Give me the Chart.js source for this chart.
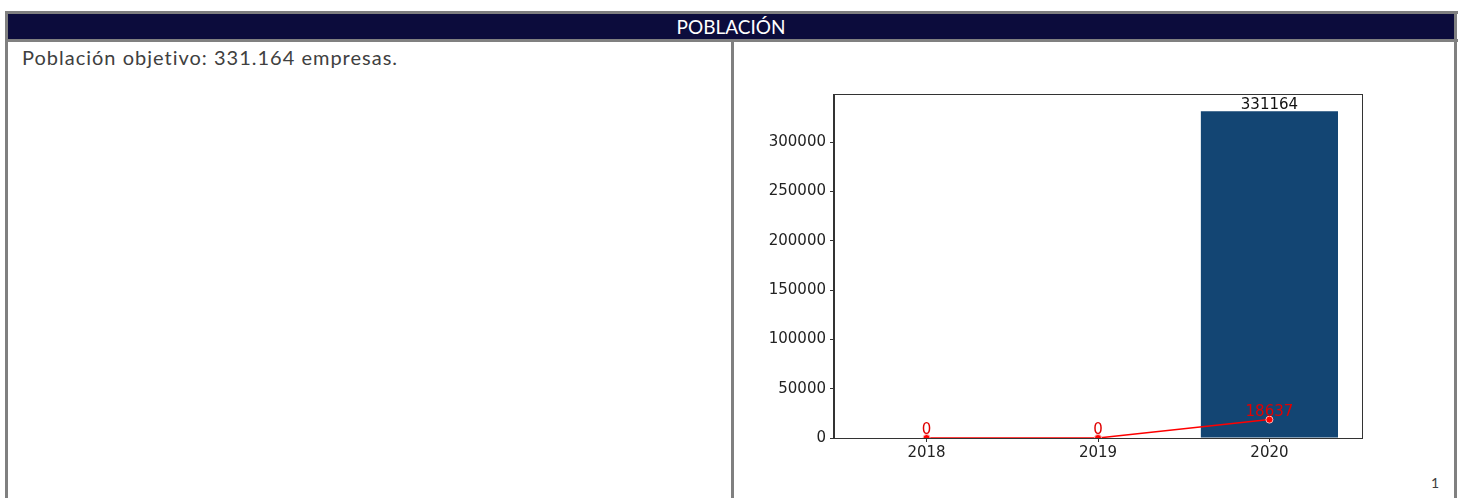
<!DOCTYPE html>
<html>
<head>
  <meta charset="utf-8">
  <title>Población</title>
  <script src="https://cdn.jsdelivr.net/npm/chart.js"></script>
<style>
body {
  margin: 0;
  background: #fff;
  width: 1465px;
  height: 498px;
  overflow: hidden;
  position: relative;
}
.line { position: absolute; background: #808080; }
.header {
  position: absolute;
  left: 8px; top: 14px; width: 1446px; height: 25px;
  background: #0c0c3c;
  color: #fff;
  font-family: Lato, "Open Sans", sans-serif;
  font-size: 19px;
  line-height: 26px;
  text-align: center;
}
.note {
  position: absolute;
  left: 22px; top: 45px;
  font-family: Lato, "Open Sans", sans-serif;
  font-size: 20px;
  letter-spacing: 1px;
  color: #404040;
}
.page {
  position: absolute;
  left: 1431px; top: 474px;
  font-family: Lato, sans-serif;
  font-size: 14px;
  color: #404040;
}
#chartBox { position: absolute; left: 740px; top: 44px; }
</style>
</head>
<body>
  <div class="line" style="left:5px;top:11px;width:1453px;height:3px"></div>
  <div class="header">POBLACIÓN</div>
  <div class="line" style="left:5px;top:39px;width:1453px;height:3px"></div>
  <div class="line" style="left:5px;top:11px;width:3px;height:487px"></div>
  <div class="line" style="left:731px;top:39px;width:3px;height:459px"></div>
  <div class="line" style="left:1454px;top:11px;width:3px;height:487px"></div>
  <div class="note">Población objetivo: 331.164 empresas.</div>
  <div class="page">1</div>
  <div id="chartBox"><canvas id="poblacionChart" width="700" height="454"></canvas></div>

<script>
// data
const categories = ['2018', '2019', '2020'];
const poblacion = [0, 0, 331164];
const muestra = [0, 0, 18637];
const yTicks = [0, 50000, 100000, 150000, 200000, 250000, 300000];

const barColor = '#134573';
const axisColor = '#333';
const tickFont = { family: 'DejaVu Sans', size: 15 };

// frame round the plot area, like matplotlib
const framePlugin = {
  id: 'frame',
  afterDraw(chart) {
    const a = chart.chartArea;
    const ctx = chart.ctx;
    ctx.save();
    ctx.strokeStyle = axisColor;
    ctx.lineWidth = 1;
    ctx.strokeRect(Math.round(a.left) - 0.5, Math.round(a.top) - 0.5, Math.round(a.right - a.left) + 1, Math.round(a.bottom - a.top) + 1);
    ctx.restore();
  }
};

// value labels above bars and points
const labelPlugin = {
  id: 'valueLabels',
  afterDatasetsDraw(chart) {
    const ctx = chart.ctx;
    ctx.save();
    ctx.font = '15px "DejaVu Sans"';
    ctx.textAlign = 'center';
    ctx.textBaseline = 'bottom';
    chart.data.datasets.forEach((ds, i) => {
      const meta = chart.getDatasetMeta(i);
      meta.data.forEach((el, j) => {
        const v = ds.data[j].y;
        if (ds.type === 'bar') {
          if (!v) return;
          ctx.fillStyle = '#111';
          ctx.fillText(String(v), el.x, el.y + 1);
        } else {
          ctx.fillStyle = '#e00000';
          ctx.fillText(String(v), el.x, el.y);
        }
      });
    });
    ctx.restore();
  }
};

new Chart(document.getElementById('poblacionChart'), {
  type: 'bar',
  data: {
    datasets: [
      {
        type: 'line',
        data: categories.map((c, i) => ({ x: i, y: muestra[i] })),
        borderColor: '#ff0000',
        borderWidth: 1.5,
        pointRadius: 3.5,
        pointBackgroundColor: '#ff0000',
        pointBorderColor: '#ffb4b4',
        pointBorderWidth: 1,
        order: 0
      },
      {
        type: 'bar',
        data: categories.map((c, i) => ({ x: i, y: poblacion[i] })),
        backgroundColor: barColor,
        barPercentage: 1,
        categoryPercentage: 0.8,
        order: 1
      }
    ]
  },
  options: {
    responsive: false,
    animation: false,
    layout: { padding: { left: 0, top: 51, right: 78, bottom: 0 } },
    plugins: { legend: { display: false }, tooltip: { enabled: false } },
    scales: {
      x: {
        type: 'linear',
        offset: false,
        min: -0.54,
        max: 2.54,
        afterBuildTicks: (s) => { s.ticks = categories.map((c, i) => ({ value: i })); },
        afterFit: (s) => { s.height = 60; },
        ticks: {
          callback: (v) => categories[v],
          font: tickFont,
          color: '#222',
          padding: 2,
          maxRotation: 0
        },
        grid: { offset: false, drawOnChartArea: false, drawTicks: true, tickLength: 4, color: axisColor },
        border: { display: true, color: axisColor }
      },
      y: {
        min: 0,
        max: Math.max(...poblacion) * 1.05,
        afterBuildTicks: (s) => { s.ticks = yTicks.map(v => ({ value: v })); },
        afterFit: (s) => { s.width = 94; },
        ticks: {
          font: tickFont,
          color: '#222',
          padding: 4,
          callback: (v) => String(v)
        },
        grid: { drawOnChartArea: false, drawTicks: true, tickLength: 4, color: axisColor },
        border: { display: true, color: axisColor }
      }
    }
  },
  plugins: [framePlugin, labelPlugin]
});
</script>
</body>
</html>
